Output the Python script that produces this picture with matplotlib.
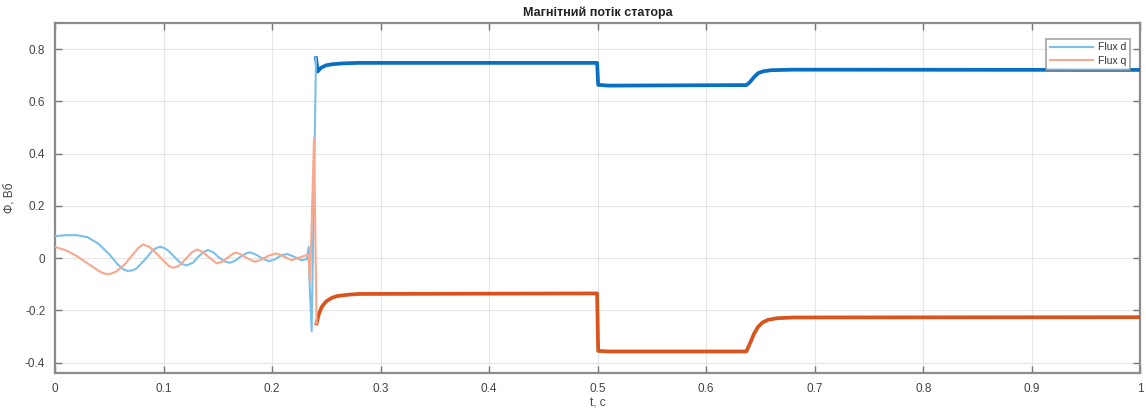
import matplotlib
matplotlib.use("Agg")
import matplotlib.pyplot as plt

plt.rcParams['font.family'] = ['Liberation Sans', 'DejaVu Sans']

# ---- data ----
t_d_start = [0.000, 0.010, 0.020, 0.030, 0.040, 0.050, 0.058, 0.063, 0.067, 0.071, 0.075, 0.083,
             0.090, 0.094, 0.097, 0.100, 0.104, 0.110, 0.116, 0.121, 0.127, 0.132, 0.137, 0.141,
             0.146, 0.151, 0.156, 0.161, 0.166, 0.171, 0.176, 0.180, 0.185, 0.190,
             0.197, 0.203, 0.208, 0.214, 0.220, 0.227, 0.232, 0.2338, 0.2342, 0.2346,
             0.2365, 0.2405]
v_d_start = [0.084, 0.088, 0.088, 0.080, 0.055, 0.015, -0.025, -0.043, -0.049, -0.047, -0.040, -0.005,
             0.030, 0.040, 0.043, 0.040, 0.030, 0.005, -0.020, -0.028, -0.018, 0.005, 0.024, 0.031,
             0.022, 0.003, -0.012, -0.018, -0.010, 0.006, 0.018, 0.022, 0.014, 0.001,
             -0.012, -0.004, 0.010, 0.016, 0.006, -0.008, -0.004, 0.043, -0.046, -0.100,
             -0.280, 0.765]

t_q_start = [0.000, 0.010, 0.020, 0.030, 0.040, 0.044, 0.048, 0.052, 0.056, 0.064, 0.072, 0.077,
             0.081, 0.087, 0.093, 0.100, 0.105, 0.109, 0.114, 0.120, 0.126, 0.131,
             0.136, 0.142, 0.149, 0.154, 0.160, 0.166, 0.171, 0.177, 0.184, 0.190,
             0.197, 0.204, 0.210, 0.218, 0.225, 0.2335, 0.2350, 0.2387, 0.2410]
v_q_start = [0.043, 0.030, 0.008, -0.020, -0.048, -0.057, -0.061, -0.059, -0.052, -0.025, 0.015, 0.040,
             0.052, 0.043, 0.020, -0.010, -0.030, -0.037, -0.030, -0.005, 0.022, 0.033,
             0.024, 0.003, -0.020, -0.014, 0.005, 0.022, 0.015, 0.000, -0.014, -0.006,
             0.010, 0.018, 0.008, -0.008, 0.002, 0.014, -0.090, 0.460, -0.250]

t_d_run = [0.2405, 0.2420, 0.2450, 0.2500, 0.2560, 0.2650, 0.2800, 0.4995, 0.5005, 0.5100,
           0.6370, 0.6400, 0.6440, 0.6480, 0.6530, 0.6600, 0.6800, 1.0000]
v_d_run = [0.765, 0.714, 0.728, 0.738, 0.742, 0.745, 0.747, 0.747, 0.663, 0.660,
           0.662, 0.672, 0.692, 0.708, 0.715, 0.719, 0.721, 0.720]

t_q_run = [0.2410, 0.2430, 0.2460, 0.2500, 0.2550, 0.2600, 0.2700, 0.2800, 0.4995, 0.5005,
           0.5100, 0.6370, 0.6400, 0.6440, 0.6480, 0.6520, 0.6570, 0.6650, 0.6800, 1.0000]
v_q_run = [-0.250, -0.215, -0.185, -0.165, -0.152, -0.145, -0.140, -0.137, -0.135, -0.355,
           -0.357, -0.357, -0.330, -0.290, -0.262, -0.246, -0.236, -0.230, -0.227, -0.226]

x_ticks = [0, 0.1, 0.2, 0.3, 0.4, 0.5, 0.6, 0.7, 0.8, 0.9, 1]
x_tick_labels = ['0', '0.1', '0.2', '0.3', '0.4', '0.5', '0.6', '0.7', '0.8', '0.9', '1']
y_ticks = [-0.4, -0.2, 0, 0.2, 0.4, 0.6, 0.8]
y_tick_labels = ['-0.4', '-0.2', '0', '0.2', '0.4', '0.6', '0.8']
series_names = ['Flux d', 'Flux q']

# ---- figure ----
fig = plt.figure(figsize=(11.46, 4.16), dpi=100)
ax = fig.add_axes([0.048, 0.103, 0.947, 0.842])

light_d = '#7cc0ea'
light_q = '#f6a98f'
dark_d = '#0a6fc0'
dark_q = '#d8541e'

ax.plot(t_d_run, v_d_run, color=dark_d, lw=2.7, solid_joinstyle='round', zorder=3)
ax.plot(t_q_run, v_q_run, color=dark_q, lw=2.7, solid_joinstyle='round', zorder=3)
ld, = ax.plot(t_d_start, v_d_start, color=light_d, lw=1.5, zorder=4,
              solid_joinstyle='round', label=series_names[0])
lq, = ax.plot(t_q_start, v_q_start, color=light_q, lw=1.5, zorder=4,
              solid_joinstyle='round', label=series_names[1])

ax.set_xlim(0, 1)
ax.set_ylim(-0.44, 0.9)
ax.set_xticks(x_ticks)
ax.set_xticklabels(x_tick_labels)
ax.set_yticks(y_ticks)
ax.set_yticklabels(y_tick_labels)

ax.grid(True, color='#e6e6e6', lw=0.8)
ax.set_axisbelow(True)
for s in ax.spines.values():
    s.set_color('#8c8c8c')
    s.set_linewidth(1.6)
ax.tick_params(direction='in', length=5, width=1.0, color='#777777',
               labelcolor='#444444', labelsize=8.5, top=True, right=True, pad=7)

ax.set_title('Магнітний потік статора', fontsize=9, fontweight='bold', pad=5, color='#222222')
ax.set_xlabel('t, c', fontsize=8.5, color='#444444', labelpad=2)
ax.set_ylabel('Φ, Вб', fontsize=8.5, color='#444444', labelpad=6)

leg = ax.legend(handles=[ld, lq], loc='upper right', bbox_to_anchor=(0.995, 0.97),
                fontsize=7.5, frameon=True, fancybox=False, handlelength=4.2,
                borderpad=0.35, labelspacing=0.35, handletextpad=0.4)
leg.get_frame().set_edgecolor('#8c8c8c')
leg.get_frame().set_linewidth(1.2)
for txt in leg.get_texts():
    txt.set_color('#333333')

fig.savefig('out.png', dpi=100)
